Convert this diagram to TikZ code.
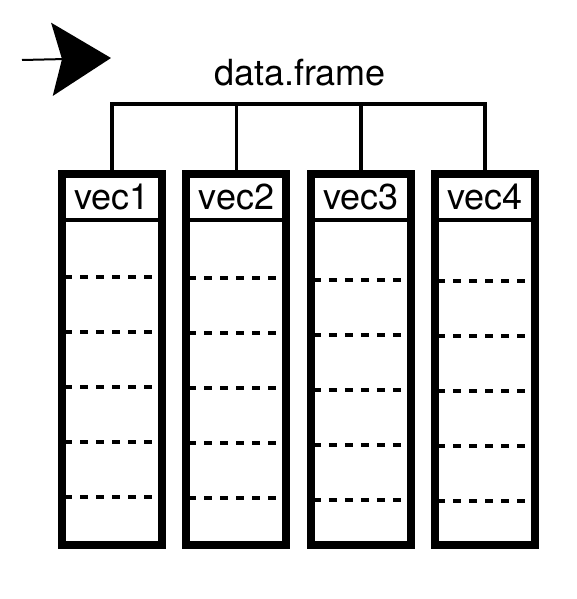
\documentclass[tikz,border=0pt]{standalone}
\usepackage{fontspec}
\setmainfont{TeX Gyre Heros}
\usetikzlibrary{positioning,arrows.meta}

\begin{document}
\begin{tikzpicture}[
                x=1pt, y=1pt,
                node distance=24.4pt,
                font=\fontsize{36}{40}\selectfont,
                head/.style={minimum width=100pt, minimum height=46pt,
                             inner sep=0pt, outer sep=0pt},
                body/.style={minimum width=100pt, minimum height=325pt,
                             inner sep=0pt, outer sep=0pt},
                frame/.style={line width=8pt},
                thin/.style={line width=3.5pt},
                dots/.style={line width=4pt, dash pattern=on 8pt off 8pt,
                             dash phase=14pt}]
                \useasboundingbox (0,0) rectangle (577,-599);
                \node (df) at (300,-73) {data.frame};
                \node[head] (h1) at (112,-197) {vec1};
                \node[head, right=of h1] (h2) {vec2};
                \node[head, right=of h2] (h3) {vec3};
                \node[head, right=of h3] (h4) {vec4};
                \foreach \i in {1,...,4} {
                    \node[body, below=0pt of h\i] (b\i) {};
                    \draw[frame] (h\i.north west) rectangle (b\i.south east);
                    \draw[thin] (h\i.south west) -- (h\i.south east);
                    \foreach \r [evaluate=\r as \dy using {-57-1.3*(\i-1)-55*\r}] in {0,...,4}
                        \draw[dots] ([yshift=\dy]b\i.north west) -- ([yshift=\dy]b\i.north east);
                }
                % tree from the title to the columns
                \coordinate (bus) at (0,-104);
                \draw[thin] (h1.north) |- (h4.north |- bus) -- (h4.north);
                \draw[thin] (h2.north) -- (h2.north |- bus);
                \draw[thin] (h3.north) -- (h3.north |- bus);
                % stray arrow
                \coordinate (tail) at (22,-60);
                \coordinate (tip) at (111,-58);
                \draw[line width=2pt, -{Stealth[length=59pt, width=73pt, inset=10pt]}] (tail) -- (tip);
            \end{tikzpicture}
\end{document}
